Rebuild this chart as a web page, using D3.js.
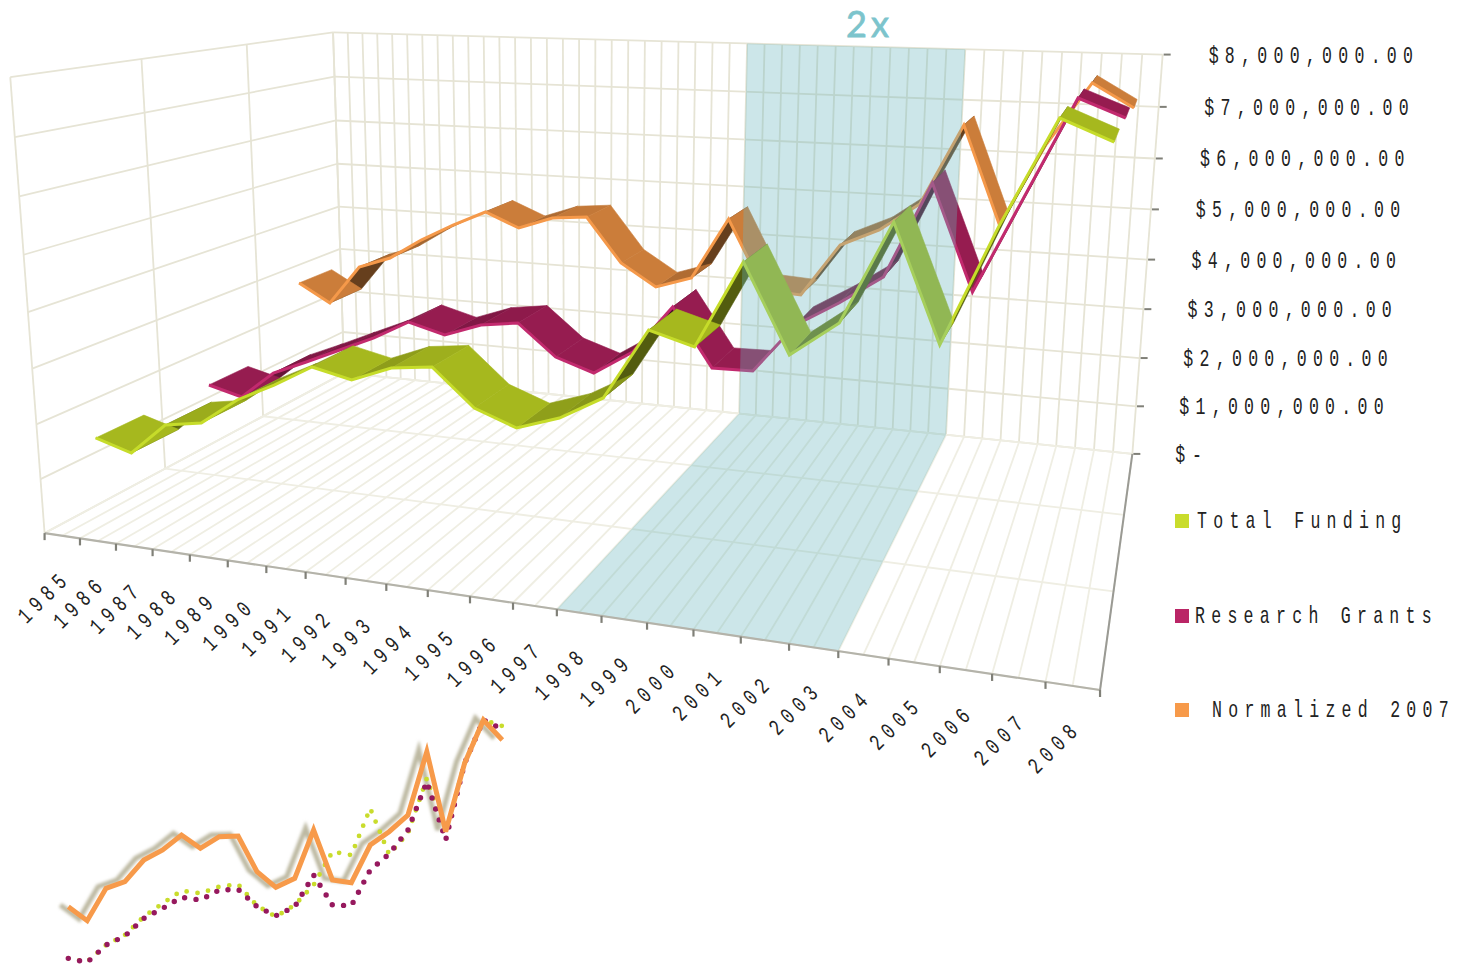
<!DOCTYPE html>
<html><head><meta charset="utf-8"><script src="https://cdn.jsdelivr.net/npm/d3@7"></script>
<style>html,body{margin:0;background:#fff}svg{display:block}</style></head><body>
<svg id="c" width="1460" height="968"></svg>
<script>
const years = d3.range(1985,2009).map(String);
const seriesNames = ["Total Funding","Research Grants","Normalized 2007"];
// Yearly amounts in thousands of dollars
const totalFunding=[1456,1257,1858,1973,2466,2806,3194,3038,3316,3402,2780,2519,2766,3174,4344,4139,5526,4147,4706,6276,4501,6297,7878,7578];
const researchGrants=[1442,1267,1831,2124,2432,2736,3112,2923,3179,3280,2700,2467,2930,3823,2771,2786,3682,4133,4643,6289,4498,6139,7775,7487];
const normalized2007=[2754,2365,3219,3468,3908,4277,4598,4308,4563,4630,3730,3289,3530,4772,3398,3355,4402,4743,5289,6814,4981,6511,7665,7244];
const valueTicks=["$ -","$1,000,000.00","$2,000,000.00","$3,000,000.00","$4,000,000.00","$5,000,000.00","$6,000,000.00","$7,000,000.00","$8,000,000.00"];
// Flat recap in the lower left, in millions
const sparkNormalized=[1.80,1.38,2.35,2.55,3.20,3.50,3.95,3.55,3.90,3.92,2.85,2.38,2.65,4.10,2.60,2.52,3.65,4.05,4.55,6.45,4.05,6.10,7.40,6.80];
const sparkResearch=[.25,.13,.65,.92,1.45,1.75,2.08,2.00,2.30,2.32,1.80,1.53,1.80,2.75,1.85,1.83,2.90,3.38,4.10,5.55,3.80,6.10,7.40,7.12];
const sparkTotal=[.25,.15,.65,.95,1.50,1.90,2.28,2.20,2.40,2.47,1.83,1.50,1.85,2.45,3.45,3.35,4.75,3.37,4.00,5.65,4.00,6.10,7.40,7.22];
const seriesValues=[totalFunding,researchGrants,normalized2007];

// Camera: box coordinates (year, value, depth in 0..1) paired with their places on the page
const anchors=[[0,0,0,46,533],[1,0,0,1100,692],[0,0,1,342,376],[1,0,1,1132,452],[0,1,0,9,78],[0,1,1,334,32],[1,1,1,1163,53],
[0,0,1/3,165,467],[0,0,2/3,263,413],[.5,0,0,513,603],[13/24,0,1,742,415],[19/24,0,1,945,435],[13/24,1,1,749,44],[19/24,1,1,963,50]];
function solve(A,b){const n=b.length,M=A.map((r,i)=>[...r,b[i]]);
 for(let i=0;i<n;i++){let p=i;for(let k=i+1;k<n;k++)if(Math.abs(M[k][i])>Math.abs(M[p][i]))p=k;[M[i],M[p]]=[M[p],M[i]];
  for(let k=0;k<n;k++)if(k!==i){const f=M[k][i]/M[i][i];for(let j=i;j<=n;j++)M[k][j]-=f*M[i][j];}}
 return M.map((r,i)=>r[n]/r[i]);}
const rows=[],rhs=[];
anchors.forEach(([u,v,w,x,y])=>{rows.push([u,v,w,1,0,0,0,0,-x*u,-x*v,-x*w]);rhs.push(x);rows.push([0,0,0,0,u,v,w,1,-y*u,-y*v,-y*w]);rhs.push(y);});
const ATA=d3.range(11).map(i=>d3.range(11).map(j=>d3.sum(rows,r=>r[i]*r[j])));
const ATb=d3.range(11).map(i=>d3.sum(rows,(r,k)=>r[i]*rhs[k]));
const m=solve(ATA,ATb);
const P=(u,v,w)=>{const d=m[8]*u+m[9]*v+m[10]*w+1;return[(m[0]*u+m[1]*v+m[2]*w+m[3])/d,(m[4]*u+m[5]*v+m[6]*w+m[7])/d];};

const uS=d3.scaleBand().domain(years).range([0,1]);
const vS=d3.scaleLinear().domain([0,8000]).range([0,1]);
const wS=d3.scaleBand().domain(seriesNames).range([0,1]);
const front=s=>wS(s)+wS.bandwidth()*.3, back=s=>wS(s)+wS.bandwidth()*.7;

const svg=d3.select("#c");
const line=d3.line();

// Back wall, side wall and floor grids
const gridAt=col=>svg.append("g").attr("fill","none").attr("stroke",col).attr("stroke-width",1.8);
const grid=gridAt("#e6e4d5"),floor=gridAt("#efeee3");
const seg=(g,a,b)=>g.append("path").attr("d",line([P(...a),P(...b)]));
d3.range(0,49).forEach(k=>{seg(grid,[k/48,0,1],[k/48,1,1]);seg(floor,[k/48,0,0],[k/48,0,1]);});
d3.range(0,9).forEach(k=>{seg(grid,[0,k/8,1],[1,k/8,1]);seg(grid,[0,k/8,0],[0,k/8,1]);});
d3.range(0,4).forEach(k=>{seg(floor,[0,0,k/3],[1,0,k/3]);seg(grid,[0,0,k/3],[0,1,k/3]);});

// Ribbons, back to front; rising stretches show their darker underside
const base=["#a6b81e","#961c50","#cb7d3a"],edge=["#c6dc2a","#c22a6e","#f5994a"];
const lum=d3.scaleLinear().domain([0,250,500,650]).range([1,.86,.8,.5]).clamp(true);
[2,1,0].forEach(si=>{const s=seriesNames[si],vals=seriesValues[si],f=front(s),b=back(s),g=svg.append("g");
 const pt=(i,w)=>P(uS(years[i])+uS.step()/2,vS(vals[i]),w);
 const idx=d3.range(23).sort((x,y)=>(vals[y+1]-vals[y])-(vals[x+1]-vals[x]));
 idx.forEach(i=>{const c=d3.rgb(base[si]),k=lum(vals[i+1]-vals[i]);const col=`rgb(${c.r*k},${c.g*k},${c.b*k})`;
  g.append("path").attr("d",line([pt(i,f),pt(i+1,f),pt(i+1,b),pt(i,b)])+"Z").attr("fill",col).attr("stroke",col).attr("stroke-width",.6);});
 g.append("path").attr("d",line(d3.range(24).map(i=>pt(i,f)))).attr("fill","none").attr("stroke",edge[si]).attr("stroke-width",3);
});

// Translucent band marking 1998 to 2003 across floor and back wall
const u0=13/24,u1=19/24;
svg.append("path").attr("d",line([[u0,1,1],[u1,1,1],[u1,0,1],[u1,0,0],[u0,0,0],[u0,0,1]].map(a=>P(...a)))+"Z").attr("fill","#69b5be").attr("fill-opacity",.34);

// Axes
const ax=svg.append("g").attr("fill","none");
ax.append("path").attr("d",line([P(0,0,0),P(1,0,0)])).attr("stroke","#b4b3aa").attr("stroke-width",2.2);
ax.append("path").attr("d",line([P(1,0,0),P(1,0,1)])).attr("stroke","#9a9a94").attr("stroke-width",2);
d3.range(25).forEach(k=>{const[x,y]=P(k/24,0,0);ax.append("path").attr("d",line([[x,y],[x,y+7]])).attr("stroke","#808078").attr("stroke-width",2.2);});
valueTicks.forEach((_,k)=>{const[x,y]=P(1,k/8,1);ax.append("path").attr("d",line([[x+1,y],[x+8,y]])).attr("stroke","#808078").attr("stroke-width",2);});

// Labels share a narrowed, widely spaced monospace face
const label=(x,y,str,rot,anchor)=>svg.append("text").attr("transform",`translate(${x},${y}) rotate(${rot}) scale(.72,1)`)
 .attr("font-family","Liberation Mono").attr("font-size",23).attr("letter-spacing",8.7).attr("word-spacing",-22).attr("text-anchor",anchor).attr("fill","#222").text(str);
const tickLabelShift=d3.scaleLinear().domain([0,8]).range([43,46]);
valueTicks.forEach((t,k)=>{const[x,y]=P(1,k/8,1);label(x+tickLabelShift(k),y+8,t,0,"start");});
years.forEach(t=>{const[x,y]=P(uS(t)+uS.step()/2,0,0);label(x+10,y+43,t,-45,"end");});

const swatches=["#c9dc2c","#ba2566","#f79a4a"],legY=[521,616,710],legX=[1197,1195,1212];
seriesNames.forEach((s,i)=>{svg.append("rect").attr("x",1175).attr("y",legY[i]-7).attr("width",14).attr("height",14).attr("fill",swatches[i]);
 label(legX[i],legY[i]+7,s,0,"start").attr("word-spacing",0);});
svg.append("text").attr("x",846).attr("y",37).attr("font-family","Lato").attr("font-size",36).attr("word-spacing",-5).attr("fill","#7cc4cc").attr("stroke","#7cc4cc").attr("stroke-width",.8).text("2 x");

// Flat recap of the three series
const defs=svg.append("defs");
defs.append("filter").attr("id","soft").append("feGaussianBlur").attr("stdDeviation",.5);
defs.append("filter").attr("id","shade").attr("filterUnits","userSpaceOnUse").attr("x",0).attr("y",680).attr("width",560).attr("height",288).append("feGaussianBlur").attr("stdDeviation",1.6);
const sx=d3.scaleLinear().domain([0,23]).range([68.3,502.3]);
const sy=d3.scaleLinear().domain([0,8]).range([966.7,700]);
const sl=d3.line().x((d,i)=>sx(i)).y(d=>sy(d));
const sg=svg.append("g").attr("fill","none");
sg.append("path").attr("d",sl(sparkNormalized.map(d=>d+.05))).attr("transform","translate(-8,0)").attr("stroke","#bdb9a2").attr("stroke-width",5).attr("filter","url(#shade)");
const sd=sg.append("g");
sd.append("path").attr("d",sl(sparkTotal)).attr("stroke","#c9dc2c").attr("stroke-width",4.8).attr("stroke-linecap","round").attr("stroke-dasharray","0 11");
sd.append("path").attr("d",sl(sparkResearch)).attr("stroke","#96195e").attr("stroke-width",5.4).attr("stroke-linecap","round").attr("stroke-dasharray","0 11.5");
sd.append("path").attr("d",sl(sparkNormalized)).attr("stroke","#f79a4a").attr("stroke-width",5);
</script></body></html>
